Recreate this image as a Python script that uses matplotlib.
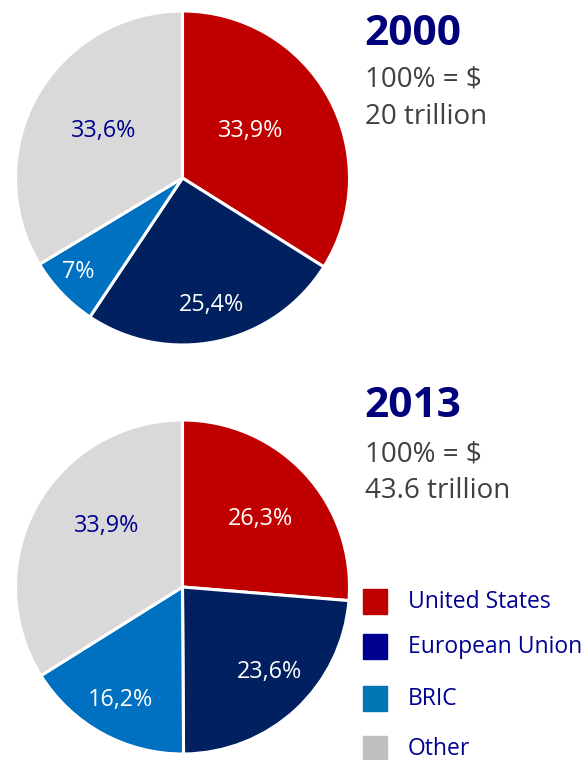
import numpy as np
import matplotlib
matplotlib.use("Agg")
import matplotlib.pyplot as plt

plt.rcParams['font.family'] = ['Open Sans', 'DejaVu Sans']

categories = ["United States", "European Union", "BRIC", "Other"]
values_2000 = [33.9, 25.4, 7.0, 33.6]
labels_2000 = ["33,9%", "25,4%", "7%", "33,6%"]
values_2013 = [26.3, 23.6, 16.2, 33.9]
labels_2013 = ["26,3%", "23,6%", "16,2%", "33,9%"]
years = ["2000", "2013"]
totals = ["20 trillion", "43.6 trillion"]

pie_colors = ["#C00000", "#002060", "#0070C0", "#D9D9D9"]
legend_colors = ["#C00000", "#000090", "#0077B3", "#BFBFBF"]
label_colors = ["white", "white", "white", "#000090"]
navy = "#00007A"
grey_text = "#404040"

W, H = 587, 760
fig = plt.figure(figsize=(W / 100, H / 100), dpi=100)

def fx(x):
    return x / W

def fy(y):
    return 1 - y / H

def draw_pie(cx, cy, r, values, labels, dists, angle_shift):
    ax = fig.add_axes([fx(cx - r), fy(cy + r), 2 * r / W, 2 * r / H])
    wedges, _ = ax.pie(values, colors=pie_colors, startangle=90, counterclock=False,
                       wedgeprops=dict(edgecolor="white", linewidth=2.2))
    ax.set_xlim(-1, 1)
    ax.set_ylim(-1, 1)
    ax.set_aspect("equal")
    ax.axis("off")
    for w, lab, d, s, c in zip(wedges, labels, dists, angle_shift, label_colors):
        th = np.deg2rad((w.theta1 + w.theta2) / 2 + s)
        ax.text(d * np.cos(th), d * np.sin(th) - 0.012, lab, ha="center", va="center",
                fontsize=16.8, color=c)
    return ax

draw_pie(182.5, 178, 167, values_2000, labels_2000,
         [0.50, 0.77, 0.83, 0.557], [6.6, 1.0, -2.3, -2.5])
draw_pie(182.5, 587, 167, values_2013, labels_2013,
         [0.63, 0.72, 0.76, 0.59], [-0.7, 3.7, -0.5, -11.0])

# titles
for yr, tot, (yb, y1, y2) in zip(years, totals, [(45, 86, 124), (417, 461, 498)]):
    fig.text(fx(364), fy(yb), yr, fontsize=30.5, fontweight="bold", color=navy, va="baseline")
    fig.text(fx(365), fy(y1), "100% = $", fontsize=20, color=grey_text, va="baseline")
    fig.text(fx(365), fy(y2), tot, fontsize=20, color=grey_text, va="baseline")

# legend
legend_centers = [601, 646, 698, 748]
for cat, col, yc in zip(categories, legend_colors, legend_centers):
    fig.patches.append(plt.Rectangle((fx(363), fy(yc + 12.5)), 24 / W, 25 / H,
                                     transform=fig.transFigure, color=col, figure=fig))
    fig.text(fx(408), fy(yc + 1), cat, fontsize=16.5, color="#000090", va="center")

fig.savefig("out.png", dpi=100, facecolor="white")
